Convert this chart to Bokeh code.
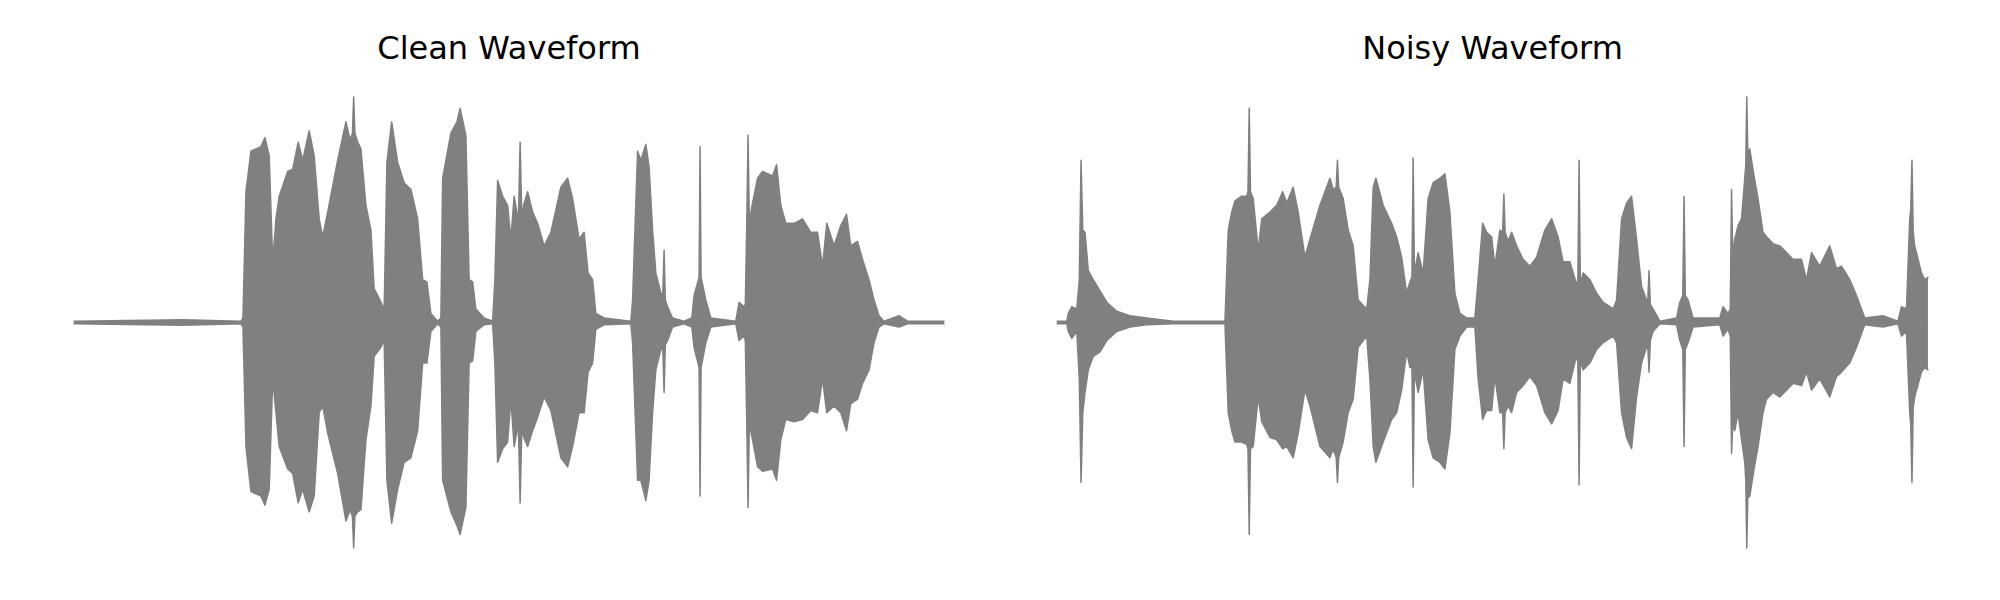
from bokeh.plotting import figure
from bokeh.layouts import row
from bokeh.models import Range1d
from bokeh.embed import file_html
from bokeh.resources import INLINE

titles = ["Clean Waveform", "Noisy Waveform"]

# Envelope of each waveform: time (ms) and upper / lower amplitude
clean_time_ms = [
    0, 436, 668, 676, 688, 708, 748, 764, 781, 795,
    808, 821, 855, 875, 897, 915, 941, 961, 981, 995,
    1015, 1055, 1088, 1105, 1114, 1119, 1124, 1135, 1148, 1168,
    1188, 1201, 1228, 1241, 1252, 1271, 1295, 1321, 1348, 1375,
    1395, 1412, 1428, 1455, 1468, 1475, 1508, 1532, 1545, 1568,
    1581, 1595, 1608, 1641, 1675, 1684, 1695, 1715, 1735, 1748,
    1761, 1778, 1785, 1792, 1799, 1815, 1835, 1855, 1881, 1908,
    1948, 1975, 1995, 2021, 2041, 2057, 2075, 2088, 2121, 2228,
    2235, 2255, 2268, 2288, 2301, 2315, 2328, 2348, 2356, 2361,
    2366, 2375, 2395, 2441, 2472, 2481, 2501, 2505, 2509, 2528,
    2548, 2648, 2661, 2681, 2686, 2692, 2697, 2702, 2715, 2735,
    2755, 2795, 2811, 2828, 2848, 2881, 2915, 2948, 2975, 2995,
    3012, 3041, 3068, 3091, 3108, 3135, 3155, 3181, 3201, 3221,
    3241, 3301, 3335, 3481,
]
clean_upper = [
    0.006, 0.012, 0.006, 0.02, 0.58, 0.76, 0.78, 0.82, 0.74, 0.27,
    0.46, 0.56, 0.67, 0.68, 0.80, 0.72, 0.85, 0.74, 0.46, 0.38,
    0.49, 0.72, 0.89, 0.81, 0.84, 1.00, 0.84, 0.80, 0.77, 0.52,
    0.41, 0.15, 0.09, 0.06, 0.71, 0.89, 0.71, 0.62, 0.59, 0.46,
    0.19, 0.18, 0.04, 0.006, 0.02, 0.64, 0.84, 0.89, 0.95, 0.83,
    0.19, 0.18, 0.06, 0.02, 0.006, 0.19, 0.63, 0.56, 0.52, 0.37,
    0.56, 0.45, 0.80, 0.45, 0.52, 0.58, 0.49, 0.44, 0.34, 0.40,
    0.60, 0.64, 0.55, 0.37, 0.40, 0.22, 0.19, 0.04, 0.02, 0.006,
    0.10, 0.76, 0.72, 0.79, 0.69, 0.41, 0.22, 0.13, 0.13, 0.32,
    0.10, 0.07, 0.02, 0.006, 0.02, 0.12, 0.20, 0.78, 0.20, 0.10,
    0.02, 0.006, 0.09, 0.07, 0.08, 0.45, 0.83, 0.45, 0.53, 0.64,
    0.67, 0.65, 0.70, 0.52, 0.44, 0.44, 0.46, 0.40, 0.40, 0.25,
    0.44, 0.34, 0.43, 0.48, 0.34, 0.36, 0.28, 0.19, 0.10, 0.03,
    0.006, 0.03, 0.006, 0.006,
]
clean_lower = [
    -0.006, -0.012, -0.006, -0.02, -0.55, -0.75, -0.77, -0.81, -0.74, -0.25,
    -0.40, -0.55, -0.65, -0.67, -0.80, -0.74, -0.84, -0.77, -0.40, -0.37,
    -0.49, -0.67, -0.88, -0.83, -0.86, -1.00, -0.86, -0.84, -0.83, -0.52,
    -0.37, -0.15, -0.11, -0.08, -0.70, -0.89, -0.74, -0.62, -0.60, -0.48,
    -0.18, -0.18, -0.04, -0.006, -0.02, -0.70, -0.84, -0.90, -0.94, -0.82,
    -0.18, -0.17, -0.04, -0.01, -0.006, -0.18, -0.62, -0.56, -0.53, -0.34,
    -0.55, -0.45, -0.80, -0.45, -0.51, -0.55, -0.48, -0.42, -0.33, -0.39,
    -0.60, -0.64, -0.55, -0.40, -0.40, -0.22, -0.18, -0.03, -0.01, -0.006,
    -0.09, -0.70, -0.70, -0.79, -0.70, -0.40, -0.21, -0.12, -0.12, -0.31,
    -0.10, -0.08, -0.02, -0.006, -0.02, -0.11, -0.20, -0.77, -0.20, -0.09,
    -0.02, -0.006, -0.08, -0.06, -0.08, -0.45, -0.82, -0.45, -0.52, -0.64,
    -0.66, -0.65, -0.70, -0.52, -0.43, -0.44, -0.43, -0.39, -0.40, -0.25,
    -0.40, -0.37, -0.40, -0.48, -0.36, -0.34, -0.27, -0.21, -0.09, -0.02,
    -0.006, -0.02, -0.006, -0.006,
]

noisy_time_ms = [
    0, 39, 45, 59, 79, 89, 96, 103, 112, 125,
    145, 172, 199, 239, 292, 359, 465, 672, 685, 699,
    712, 739, 759, 764, 769, 774, 785, 805, 819, 852,
    879, 903, 919, 945, 965, 992, 1012, 1052, 1092, 1105,
    1117, 1122, 1127, 1145, 1165, 1185, 1205, 1239, 1252, 1265,
    1276, 1305, 1339, 1359, 1379, 1399, 1412, 1420, 1425, 1430,
    1445, 1465, 1485, 1505, 1532, 1552, 1572, 1592, 1612, 1639,
    1672, 1685, 1703, 1719, 1739, 1752, 1772, 1783, 1788, 1793,
    1805, 1819, 1839, 1865, 1892, 1919, 1952, 1979, 2005, 2025,
    2052, 2076, 2084, 2089, 2094, 2105, 2132, 2159, 2185, 2225,
    2239, 2259, 2279, 2299, 2319, 2339, 2359, 2364, 2369, 2374,
    2385, 2412, 2479, 2492, 2504, 2509, 2514, 2525, 2545, 2652,
    2665, 2685, 2694, 2699, 2704, 2712, 2725, 2739, 2752, 2756,
    2760, 2764, 2772, 2789, 2805, 2825, 2839, 2865, 2892, 2919,
    2945, 2979, 2999, 3019, 3052, 3092, 3119, 3139, 3172, 3199,
    3232, 3305, 3365, 3379, 3399, 3412, 3416, 3421, 3426, 3432,
    3459, 3472, 3485,
]
noisy_upper = [
    0.006, 0.006, 0.04, 0.07, 0.06, 0.19, 0.72, 0.41, 0.40, 0.23,
    0.19, 0.14, 0.09, 0.05, 0.03, 0.02, 0.006, 0.006, 0.41, 0.49,
    0.54, 0.56, 0.56, 0.58, 0.95, 0.58, 0.55, 0.32, 0.46, 0.49,
    0.52, 0.58, 0.53, 0.60, 0.49, 0.29, 0.37, 0.52, 0.64, 0.59,
    0.60, 0.72, 0.60, 0.55, 0.41, 0.34, 0.10, 0.06, 0.19, 0.60,
    0.64, 0.52, 0.44, 0.38, 0.29, 0.13, 0.18, 0.20, 0.73, 0.22,
    0.31, 0.22, 0.55, 0.62, 0.64, 0.66, 0.49, 0.13, 0.04, 0.02,
    0.02, 0.19, 0.44, 0.40, 0.38, 0.25, 0.41, 0.40, 0.57, 0.40,
    0.36, 0.40, 0.34, 0.28, 0.25, 0.29, 0.41, 0.46, 0.38, 0.27,
    0.27, 0.18, 0.18, 0.72, 0.17, 0.22, 0.19, 0.13, 0.09, 0.06,
    0.10, 0.46, 0.53, 0.56, 0.37, 0.16, 0.10, 0.10, 0.23, 0.08,
    0.06, 0.006, 0.02, 0.09, 0.12, 0.56, 0.12, 0.10, 0.02, 0.02,
    0.07, 0.04, 0.06, 0.59, 0.30, 0.37, 0.43, 0.46, 0.64, 0.70,
    1.00, 0.75, 0.77, 0.65, 0.55, 0.40, 0.38, 0.35, 0.34, 0.31,
    0.28, 0.28, 0.19, 0.31, 0.25, 0.34, 0.24, 0.25, 0.19, 0.12,
    0.02, 0.03, 0.006, 0.07, 0.06, 0.46, 0.50, 0.72, 0.40, 0.34,
    0.22, 0.19, 0.20,
]
noisy_lower = [
    -0.006, -0.006, -0.04, -0.07, -0.04, -0.25, -0.71, -0.40, -0.31, -0.21,
    -0.15, -0.13, -0.08, -0.04, -0.02, -0.01, -0.006, -0.006, -0.40, -0.48,
    -0.53, -0.53, -0.54, -0.56, -0.94, -0.56, -0.55, -0.33, -0.44, -0.51,
    -0.52, -0.56, -0.55, -0.60, -0.49, -0.30, -0.37, -0.55, -0.60, -0.56,
    -0.60, -0.71, -0.60, -0.53, -0.40, -0.34, -0.11, -0.06, -0.25, -0.55,
    -0.62, -0.53, -0.43, -0.40, -0.30, -0.13, -0.20, -0.20, -0.73, -0.22,
    -0.31, -0.21, -0.52, -0.60, -0.62, -0.65, -0.49, -0.12, -0.06, -0.02,
    -0.02, -0.25, -0.43, -0.39, -0.39, -0.24, -0.40, -0.40, -0.56, -0.40,
    -0.37, -0.40, -0.31, -0.28, -0.24, -0.28, -0.40, -0.45, -0.39, -0.25,
    -0.27, -0.16, -0.17, -0.72, -0.17, -0.21, -0.18, -0.12, -0.09, -0.06,
    -0.09, -0.40, -0.51, -0.56, -0.33, -0.18, -0.11, -0.11, -0.22, -0.08,
    -0.04, -0.006, -0.01, -0.08, -0.12, -0.55, -0.12, -0.09, -0.02, -0.01,
    -0.06, -0.03, -0.06, -0.58, -0.45, -0.48, -0.40, -0.52, -0.62, -0.70,
    -1.00, -0.78, -0.77, -0.65, -0.55, -0.40, -0.34, -0.31, -0.33, -0.30,
    -0.27, -0.28, -0.22, -0.30, -0.25, -0.33, -0.24, -0.22, -0.18, -0.11,
    -0.01, -0.02, -0.006, -0.06, -0.04, -0.40, -0.45, -0.71, -0.38, -0.33,
    -0.22, -0.20, -0.21,
]

WAVE_COLOR = "#808080"


def make_panel(title, t, up, lo, width, border_left, border_right):
    assert len(t) == len(up) == len(lo), (title, len(t), len(up), len(lo))
    tmin, tmax = min(t), max(t)
    ymin, ymax = min(lo), max(up)
    px = 0.05 * (tmax - tmin)
    py = 0.05 * (ymax - ymin)
    p = figure(
        width=width, height=592,
        output_backend="svg", toolbar_location=None,
        x_range=Range1d(tmin - px, tmax + px),
        y_range=Range1d(ymin - py, ymax + py),
        x_axis_location=None, y_axis_location=None,
        min_border_left=border_left, min_border_right=border_right,
        min_border_top=74, min_border_bottom=22,
    )
    p.grid.visible = False
    p.outline_line_color = None
    p.background_fill_color = "white"
    p.border_fill_color = "white"
    p.title.text = title
    p.title.align = "center"
    p.title.text_font = "DejaVu Sans"
    p.title.text_font_size = "32px"
    p.title.text_font_style = "normal"
    p.title.text_color = "black"
    p.title.standoff = 16

    p.varea(x=t, y1=lo, y2=up, fill_color=WAVE_COLOR, fill_alpha=1.0)
    p.line(t, up, line_color=WAVE_COLOR, line_width=1.5, line_join="round", line_cap="round")
    p.line(t, lo, line_color=WAVE_COLOR, line_width=1.5, line_join="round", line_cap="round")
    return p


p1 = make_panel(titles[0], clean_time_ms, clean_upper, clean_lower, 1000, 30, 13)
p2 = make_panel(titles[1], noisy_time_ms, noisy_upper, noisy_lower, 992, 13, 21)

layout = row(p1, p2)
open("out.html", "w").write(file_html(layout, INLINE))
